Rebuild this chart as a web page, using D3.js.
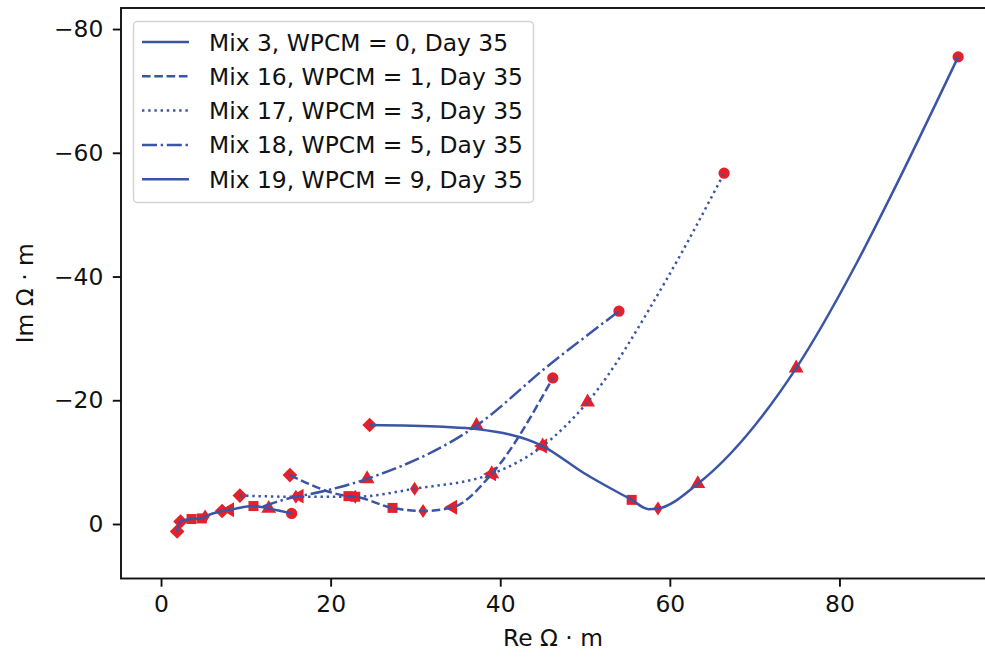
<!DOCTYPE html>
<html>
<head>
<meta charset="utf-8">
<script src="https://cdn.jsdelivr.net/npm/d3@7"></script>
<style>
  body { margin: 0; background: #fff; }
  svg { display: block; font-family: "DejaVu Sans", sans-serif; }
</style>
</head>
<body>
<svg id="chart" width="985" height="659"></svg>
<script>
// ---------------------------
// DATA (Re / Im in Ω·m)
// ---------------------------

const labels = [
    "Mix 3, WPCM = 0, Day 35",
    "Mix 16, WPCM = 1, Day 35",
    "Mix 17, WPCM = 3, Day 35",
    "Mix 18, WPCM = 5, Day 35",
    "Mix 19, WPCM = 9, Day 35"
];

// Mix 3 (solid, the long curve)
const mix3Re = [24.6, 33.3, 37.2, 45.0, 49.9, 55.5, 57.5, 58.6, 63.3, 74.9, 82.0, 85.8, 94.0];
const mix3Im = [-16.0, -15.7, -15.35, -12.6, -8.2, -3.9, -2.4, -2.5, -6.5, -25.2, -42.1, -52.3, -75.5];
const mix3Marks = ["D", "", "", "<", "", "s", "", "d", "^", "^", "", "", "o"];

// Mix 16 (dashed)
const mix16Re = [15.2, 22.1, 22.9, 27.3, 30.9, 34.4, 39.0, 46.2];
const mix16Im = [-7.9, -4.5, -4.4, -2.6, -2.1, -2.7, -8.1, -23.6];
const mix16Marks = ["D", "s", "s", "s", "d", "<", "^", "o"];

// Mix 17 (dotted)
const mix17Re = [9.3, 15.9, 22.9, 29.9, 39.0, 45.0, 50.3, 59.6, 66.4];
const mix17Im = [-4.6, -4.4, -4.4, -5.7, -8.1, -12.6, -19.7, -39.5, -56.7];
const mix17Marks = ["D", "", "d", "d", "<", "^", "^", "", "o"];

// Mix 18 (dash-dot)
const mix18Re = [12.0, 15.9, 16.3, 24.3, 37.2, 45.5, 54.0];
const mix18Im = [-2.8, -4.4, -4.5, -7.3, -15.9, -25.4, -34.4];
const mix18Marks = ["", "d", "<", "^", "^", "", "o"];

// Mix 19 (solid, short curve near the origin)
const mix19Re = [1.9, 2.3, 3.6, 4.8, 5.2, 7.2, 8.1, 10.9, 12.7, 15.4];
const mix19Im = [1.2, -0.4, -0.8, -0.9, -1.2, -2.1, -2.3, -2.9, -2.5, -1.7];
const mix19Marks = ["D", "D", "s", "s", "d", "D", "<", "s", "^", "o"];

const xTicks = [0, 20, 40, 60, 80];
const yTicks = [-80, -60, -40, -20, 0];

// ---------------------------
// SETUP
// ---------------------------

const lineColor = "#3a55a5";
const markColor = "#e3212b";
const fontSize = 23.4;

const series = [
    { re: mix3Re, im: mix3Im, marks: mix3Marks, dash: null },
    { re: mix16Re, im: mix16Im, marks: mix16Marks, dash: "8.6,3.7" },
    { re: mix17Re, im: mix17Im, marks: mix17Marks, dash: "2.4,3.8" },
    { re: mix18Re, im: mix18Im, marks: mix18Marks, dash: "15,3.7,2.4,3.7" },
    { re: mix19Re, im: mix19Im, marks: mix19Marks, dash: null }
];

const plotLeft = 121, plotRight = 987, plotTop = 8, plotBottom = 578.5;

const xScale = d3.scaleLinear()
    .domain([-4.72, 97.4])
    .range([plotLeft, plotRight]);

// imaginary axis is inverted: negative values go up
const yScale = d3.scaleLinear()
    .domain([8.81, -83.4])
    .range([plotBottom, plotTop]);

const svg = d3.select("#chart");

// ---------------------------
// AXES
// ---------------------------

const xAxis = svg.append("g")
    .attr("transform", `translate(0, ${plotBottom})`)
    .call(d3.axisBottom(xScale).tickValues(xTicks).tickSize(8.2).tickPadding(8.5));

const yAxis = svg.append("g")
    .attr("transform", `translate(${plotLeft}, 0)`)
    .call(d3.axisLeft(yScale).tickValues(yTicks).tickSize(8.2).tickPadding(9.5));

[xAxis, yAxis].forEach(ax => {
    ax.select(".domain").remove();
    ax.selectAll(".tick line").attr("stroke", "#111").attr("stroke-width", 1.9);
    ax.selectAll(".tick text")
        .attr("fill", "#111")
        .attr("font-family", "DejaVu Sans")
        .attr("font-size", fontSize);
});

// axis labels
svg.append("text")
    .attr("x", (plotLeft + 985) / 2)
    .attr("y", 646)
    .attr("text-anchor", "middle")
    .attr("font-size", fontSize)
    .attr("fill", "#111")
    .text("Re Ω · m");

svg.append("text")
    .attr("transform", `translate(33, ${(plotTop + plotBottom) / 2}) rotate(-90)`)
    .attr("text-anchor", "middle")
    .attr("font-size", fontSize)
    .attr("fill", "#111")
    .text("Im Ω · m");

// ---------------------------
// MARKERS + LINES
// ---------------------------

// matplotlib-like marker shapes, drawn with d3.symbol
const symbolFor = {
    "o": d3.symbolCircle,
    "s": d3.symbolSquare,
    "D": d3.symbolSquare,
    "d": d3.symbolSquare,
    "^": d3.symbolTriangle,
    "<": d3.symbolTriangle
};

const sizeFor = { "o": 100, "s": 100, "D": 108, "d": 100, "^": 96, "<": 96 };

const plot = svg.append("g");

series.forEach(s => {
    const pts = s.re.map((r, i) => ({ re: r, im: s.im[i], mark: s.marks[i] }))
        .filter(p => p.mark !== "");

    plot.append("g")
        .selectAll("path")
        .data(pts)
        .join("path")
        .attr("transform", d => {
            let t = `translate(${xScale(d.re)}, ${yScale(d.im)})`;
            if (d.mark === "<") t += " rotate(-90)";
            if (d.mark === "D") t += " rotate(45)";
            if (d.mark === "d") t += " scale(0.65, 1) rotate(45)";
            return t;
        })
        .attr("d", d => d3.symbol().type(symbolFor[d.mark]).size(sizeFor[d.mark])())
        .attr("fill", markColor);
});

const lineGen = d3.line()
    .x(d => xScale(d[0]))
    .y(d => yScale(d[1]))
    .curve(d3.curveMonotoneX);

series.forEach(s => {
    plot.append("path")
        .datum(s.re.map((r, i) => [r, s.im[i]]))
        .attr("d", lineGen)
        .attr("fill", "none")
        .attr("stroke", lineColor)
        .attr("stroke-width", 2.5)
        .attr("stroke-dasharray", s.dash);
});

// frame
svg.append("rect")
    .attr("x", plotLeft)
    .attr("y", plotTop)
    .attr("width", plotRight - plotLeft)
    .attr("height", plotBottom - plotTop)
    .attr("fill", "none")
    .attr("stroke", "#111")
    .attr("stroke-width", 1.9);

// ---------------------------
// LEGEND
// ---------------------------

const legend = svg.append("g");

legend.append("rect")
    .attr("x", 133.5)
    .attr("y", 21.5)
    .attr("width", 400)
    .attr("height", 181)
    .attr("rx", 4)
    .attr("fill", "#fff")
    .attr("fill-opacity", 0.85)
    .attr("stroke", "#d4d4d4")
    .attr("stroke-width", 1.5);

const rows = legend.selectAll(".row")
    .data(series)
    .join("g")
    .attr("class", "row")
    .attr("transform", (d, i) => `translate(0, ${42 + i * 34.3})`);

rows.append("line")
    .attr("x1", 142)
    .attr("x2", 189)
    .attr("stroke", lineColor)
    .attr("stroke-width", 2.5)
    .attr("stroke-dasharray", d => d.dash);

rows.append("text")
    .attr("x", 209)
    .attr("y", 8.5)
    .attr("font-size", fontSize)
    .attr("fill", "#111")
    .text((d, i) => labels[i]);
</script>
</body>
</html>
